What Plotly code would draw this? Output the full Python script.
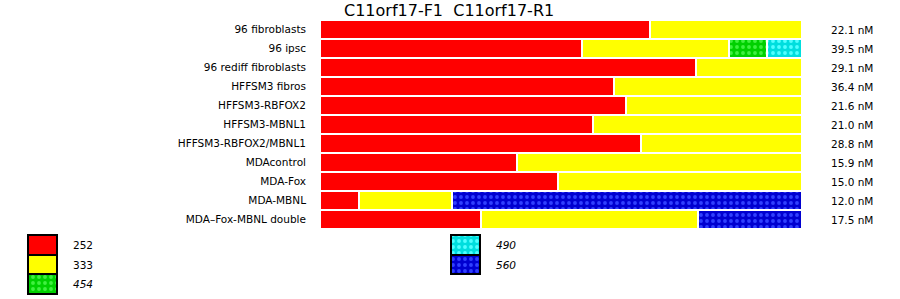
import plotly.graph_objects as go

# ---------------- data ----------------
categories = [
    "96 fibroblasts", "96 ipsc", "96 rediff fibroblasts", "HFFSM3 fibros",
    "HFFSM3-RBFOX2", "HFFSM3-MBNL1", "HFFSM3-RBFOX2/MBNL1", "MDAcontrol",
    "MDA-Fox", "MDA-MBNL", "MDA–Fox-MBNL double",
]
concentrations = ["22.1 nM", "39.5 nM", "29.1 nM", "36.4 nM", "21.6 nM", "21.0 nM",
                  "28.8 nM", "15.9 nM", "15.0 nM", "12.0 nM", "17.5 nM"]

series_names = ["252", "333", "454", "490", "560"]
s252 = [68.5, 54.4, 78.1, 61.0, 63.5, 56.7, 66.5, 40.8, 49.4, 8.1, 33.5]
s333 = [31.5, 30.4, 21.9, 39.0, 36.5, 43.3, 33.5, 59.2, 50.6, 19.2, 45.0]
s454 = [0, 7.9, 0, 0, 0, 0, 0, 0, 0, 0, 0]
s490 = [0, 7.3, 0, 0, 0, 0, 0, 0, 0, 0, 0]
s560 = [0, 0, 0, 0, 0, 0, 0, 0, 0, 72.7, 21.5]
series_values = [s252, s333, s454, s490, s560]
italic_names = ["454", "490", "560"]

title_text = "C11orf17-F1  C11orf17-R1"

# ---------------- styles ----------------
W, H = 900, 299
FONT = "DejaVu Sans"
styles = {
    "252": dict(color="#ff0000", pattern=None),
    "333": dict(color="#ffff00", pattern=None),
    "454": dict(color="#00d000", pattern="#40f040"),
    "490": dict(color="#00dede", pattern="#50ffff"),
    "560": dict(color="#0000d0", pattern="#3040ff"),
}


def marker_for(name, line_color, line_width):
    st = styles[name]
    m = dict(color=st["color"], line=dict(color=line_color, width=line_width))
    if st["pattern"]:
        m["pattern"] = dict(shape=".", size=6, solidity=0.32,
                            fgcolor=st["pattern"], bgcolor=st["color"],
                            fillmode="replace")
    return m


fig = go.Figure()

for name, vals in zip(series_names, series_values):
    fig.add_trace(go.Bar(
        y=categories, x=vals, orientation="h", name=name,
        marker=marker_for(name, "white", 2), showlegend=False,
        hoverinfo="skip",
    ))

# custom legend drawn on a helper pixel-like axis (bottom strip only)
LEG_COL_X = [28, 451]
LEG_BOX_W = 29
LEG_TOP = 235
LEG_ROW_H = 19.7
LEG_LABEL_DX = 42.5
LEG_STRIP_TOP = 232  # helper axis covers pixel rows LEG_STRIP_TOP..H
annotations = []
for i, name in enumerate(series_names):
    col = 0 if i < 3 else 1
    row = i if i < 3 else i - 3
    yc = LEG_TOP + LEG_ROW_H * (row + 0.5)
    fig.add_trace(go.Bar(
        y=[yc], x=[LEG_BOX_W], base=[LEG_COL_X[col]], width=LEG_ROW_H,
        orientation="h", xaxis="x2", yaxis="y2",
        marker=marker_for(name, "black", 2), showlegend=False, hoverinfo="skip",
    ))
    txt = f"<i>{name}</i>" if name in italic_names else name
    annotations.append(dict(
        x=LEG_COL_X[col] + LEG_LABEL_DX, y=yc, xref="x2", yref="y2",
        text=txt, showarrow=False, xanchor="left", yanchor="middle",
        font=dict(family=FONT, size=10.5, color="black"),
    ))

# right-hand concentration labels
for cat, conc in zip(categories, concentrations):
    annotations.append(dict(
        x=829 / W, y=cat, xref="paper", yref="y", text=conc, showarrow=False,
        xanchor="left", yanchor="middle", yshift=-0.5,
        font=dict(family=FONT, size=10.5, color="black"),
    ))

# title
annotations.append(dict(
    x=449 / W, y=1 - 11 / H, xref="paper", yref="paper", text=title_text,
    showarrow=False, xanchor="center", yanchor="middle",
    font=dict(family=FONT, size=16, color="black"),
))

fig.update_layout(
    width=W, height=H, margin=dict(l=0, r=0, t=0, b=0),
    paper_bgcolor="white", plot_bgcolor="rgba(0,0,0,0)",
    barmode="stack", bargap=0,
    font=dict(family=FONT, size=10.5, color="black"),
    xaxis=dict(domain=[320 / W, 802 / W], range=[0, 100], visible=False,
               fixedrange=True),
    yaxis=dict(domain=[(H - 229) / H, (H - 20) / H], type="category",
               categoryorder="array", categoryarray=categories,
               autorange="reversed", showgrid=False, zeroline=False,
               showline=False, ticks="", ticklabelstandoff=13,
               tickfont=dict(family=FONT, size=10.5, color="black")),
    xaxis2=dict(domain=[0, 1], range=[0, W], visible=False, anchor="y2"),
    yaxis2=dict(domain=[0, (H - LEG_STRIP_TOP) / H], range=[H, LEG_STRIP_TOP],
                visible=False, anchor="x2"),
    annotations=annotations,
    showlegend=False,
)

fig.write_html("out.html")
